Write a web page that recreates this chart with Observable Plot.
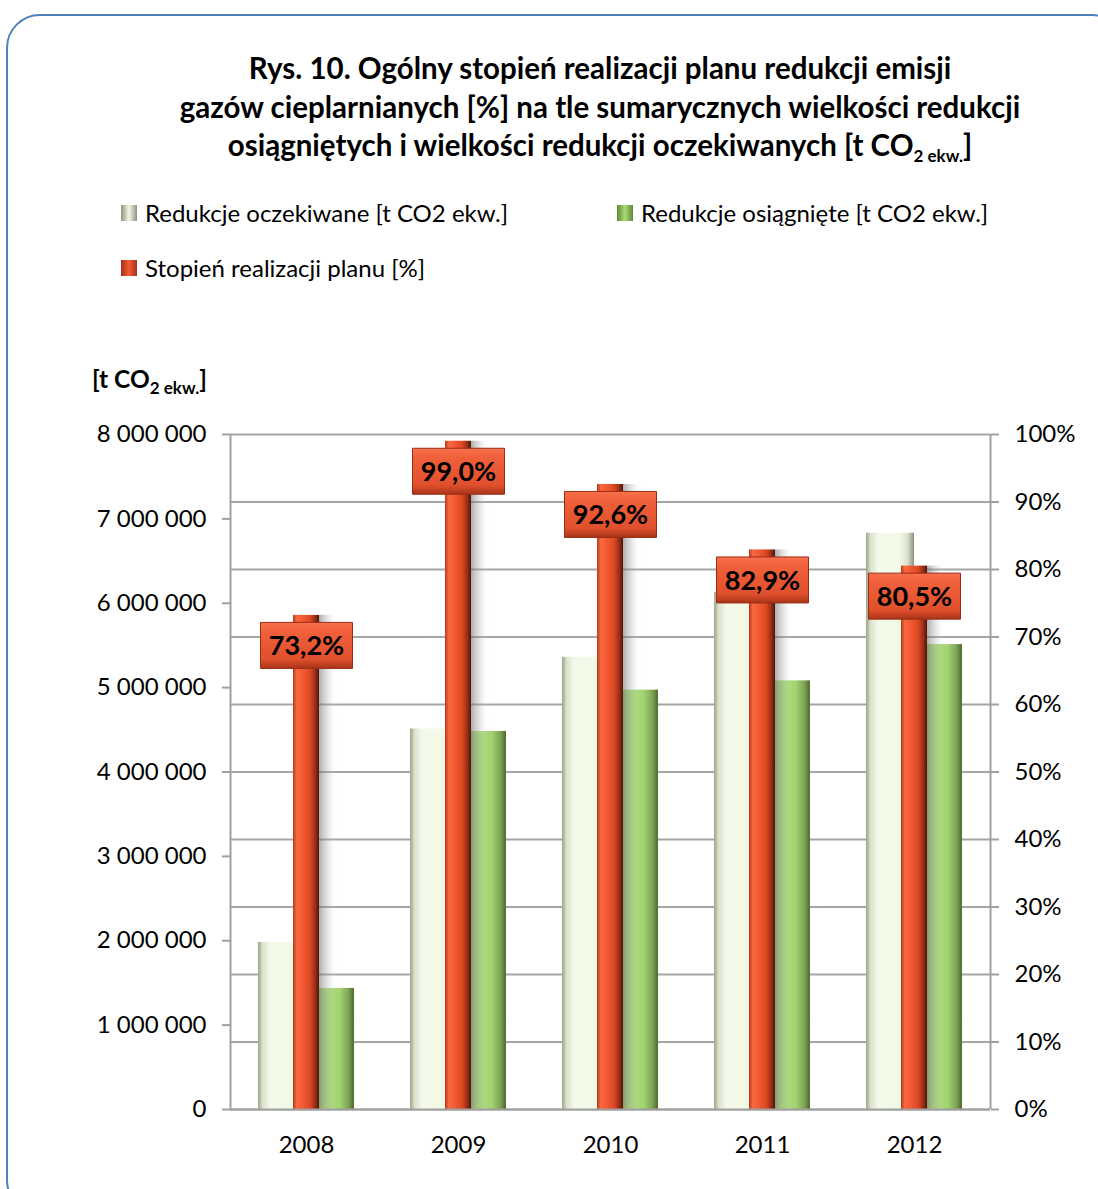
<!DOCTYPE html>
<html>
<head>
<meta charset="utf-8">
<script src="https://cdn.jsdelivr.net/npm/d3@7"></script>
<script src="https://cdn.jsdelivr.net/npm/@observablehq/plot@0.6"></script>
<style>
  html, body { margin: 0; padding: 0; background: #fff; }
  body { width: 1098px; height: 1189px; position: relative; overflow: hidden; font-family: Lato, "Open Sans", sans-serif; }
  #frame { position: absolute; left: 6px; top: 14px; width: 1120px; height: 1200px; border: 2px solid #4f81bd; border-radius: 34px; box-sizing: border-box; }
  #title { position: absolute; left: 0; width: 1200px; top: 49px; text-align: center; font-weight: bold; font-size: 29.5px; line-height: 38.5px; color: #000; }
  #title sub, #ylab sub { font-size: 17px; vertical-align: -6px; line-height: 0; }
  .leg { position: absolute; font-size: 24px; color: #000; white-space: nowrap; line-height: 28px; }
  .sw { position: absolute; width: 16px; height: 16px; }
  #ylab { position: absolute; left: 92px; top: 363px; font-weight: bold; font-size: 24.5px; line-height: 32px; }
  #chart { position: absolute; left: 0; top: 400px; }
</style>
</head>
<body>
<div id="frame"></div>
<div id="title">Rys. 10. Ogólny stopień realizacji planu redukcji emisji<br>gazów cieplarnianych [%] na tle sumarycznych wielkości redukcji<br>osiągniętych i wielkości redukcji oczekiwanych [t CO<sub>2 ekw.</sub>]</div>
<div id="legend"></div>
<div id="ylab">[t CO<sub>2 ekw.</sub>]</div>
<div id="chart"></div>
<script>
const years = ["2008", "2009", "2010", "2011", "2012"];
const expected = [1980000, 4510000, 5360000, 6130000, 6830000];
const achieved = [1435000, 4480000, 4970000, 5080000, 5510000];
const pct = [73.2, 99.0, 92.6, 82.9, 80.5];
const seriesNames = ["Redukcje oczekiwane [t CO2 ekw.]", "Redukcje osiągnięte [t CO2 ekw.]", "Stopień realizacji planu [%]"];
const leftTicks = [0, 1000000, 2000000, 3000000, 4000000, 5000000, 6000000, 7000000, 8000000];
const pctTicks = [0, 10, 20, 30, 40, 50, 60, 70, 80, 90, 100];

const YMAX = 8000000;
const data = years.map((y, i) => ({year: y, expected: expected[i], achieved: achieved[i], pct: pct[i], pctY: pct[i] / 100 * YMAX}));

// legend
const swatchBg = [
  "linear-gradient(90deg,#8e9480 0%,#f3f8e8 50%,#8e9480 100%)",
  "linear-gradient(90deg,#5f8a35 0%,#a9dc78 50%,#5f8a35 100%)",
  "linear-gradient(90deg,#a8301a 0%,#f05a30 50%,#a8301a 100%)"
];
const legPos = [[121, 213], [617, 213], [121, 268]];
const legend = document.getElementById("legend");
seriesNames.forEach((n, i) => {
  const sw = document.createElement("div");
  sw.className = "sw";
  sw.style.left = legPos[i][0] + "px";
  sw.style.top = (legPos[i][1] - 8) + "px";
  sw.style.background = swatchBg[i];
  legend.appendChild(sw);
  const t = document.createElement("div");
  t.className = "leg";
  t.style.left = (legPos[i][0] + 24) + "px";
  t.style.top = (legPos[i][1] - 14) + "px";
  t.textContent = n;
  legend.appendChild(t);
});

const labelBox = {
  draw(context) { context.rect(-46, -23, 92, 46); }
};
const fmtLeft = d => d3.format(",")(d).replace(/,/g, " ");

const chart = Plot.plot({
  width: 1098,
  height: 780,
  marginTop: 34,
  marginBottom: 71,
  marginLeft: 230,
  marginRight: 108,
  style: {fontFamily: "Lato, 'Open Sans', sans-serif", fontSize: "24px", color: "#000", background: "transparent"},
  x: {type: "band", domain: years, padding: 0},
  y: {domain: [0, YMAX]},
  marks: [
    Plot.gridY(pctTicks.map(p => p / 100 * YMAX), {stroke: "#a6a6a6", strokeOpacity: 1, strokeWidth: 2}),
    Plot.ruleX([years[0]], {y1: 0, y2: YMAX, dx: -76, stroke: "#a0a0a0", strokeWidth: 2}),
    Plot.ruleX([years[years.length - 1]], {y1: 0, y2: YMAX, dx: 76, stroke: "#a0a0a0", strokeWidth: 2}),
    Plot.barY(data, {x: "year", y: "expected", fill: "url(#gExp)", insetLeft: 28, insetRight: 76}),
    Plot.barY(data, {x: "year", y: "achieved", fill: "url(#gAch)", insetLeft: 76, insetRight: 28}),
    Plot.barY(data, {x: "year", y: "pctY", fill: "url(#gShadow)", insetLeft: 89, insetRight: 45}),
    Plot.barY(data, {x: "year", y: "pctY", fill: "url(#gRed)", insetLeft: 63, insetRight: 63}),
    Plot.dot(data, {x: "year", y: "pctY", symbol: labelBox, r: 10, dy: 30, fill: "url(#gLab)", stroke: "#9a2c14", strokeWidth: 1}),
    Plot.text(data, {x: "year", y: "pctY", dy: 31, text: d => d.pct.toFixed(1).replace(".", ",") + "%", fontSize: 27, fontWeight: "bold", fill: "#000"}),
    Plot.axisY(leftTicks, {anchor: "left", tickSize: 8, tickPadding: 16, tickFormat: fmtLeft, stroke: "#a0a0a0", strokeWidth: 2, label: null, fill: "#000"}),
    Plot.axisY(pctTicks.map(p => p / 100 * YMAX), {anchor: "right", tickSize: 8, tickPadding: 16, tickFormat: d => Math.round(d / YMAX * 100) + "%", stroke: "#a0a0a0", strokeWidth: 2, label: null, fill: "#000"}),
    Plot.axisX({tickSize: 0, tickPadding: 26, label: null, fill: "#000"}),
    Plot.ruleY([0], {stroke: "#a0a0a0", strokeWidth: 2})
  ]
});

const defs = d3.select(chart).insert("defs", ":first-child");
function grad(id, stops, vertical) {
  const g = defs.append("linearGradient").attr("id", id)
    .attr("x1", 0).attr("y1", 0).attr("x2", vertical ? 0 : 1).attr("y2", vertical ? 1 : 0);
  stops.forEach(([o, c, op]) => g.append("stop").attr("offset", o).attr("stop-color", c).attr("stop-opacity", op == null ? 1 : op));
}
grad("gExp", [[0, "#9ea38e"], [0.1, "#dde3cd"], [0.25, "#f4faea"], [0.7, "#f3f9e6"], [0.87, "#d9dfc9"], [1, "#8b917c"]]);
grad("gAch", [[0, "#7aa04f"], [0.1, "#9fcf6e"], [0.35, "#addd7e"], [0.7, "#a3d472"], [0.88, "#7ea553"], [1, "#4f6a30"]]);
grad("gRed", [[0, "#b8391b"], [0.15, "#fa6a42"], [0.35, "#f45a33"], [0.65, "#dc4a26"], [0.85, "#9c2f16"], [1, "#4e160a"]]);
grad("gShadow", [[0, "#6a6a6a", 0.55], [0.5, "#a0a0a0", 0.25], [1, "#ffffff", 0]]);
grad("gLab", [[0, "#f8704c"], [0.2, "#f0603a"], [0.8, "#e0502c"], [1, "#a83418"]], true);

document.getElementById("chart").appendChild(chart);
</script>
</body>
</html>
